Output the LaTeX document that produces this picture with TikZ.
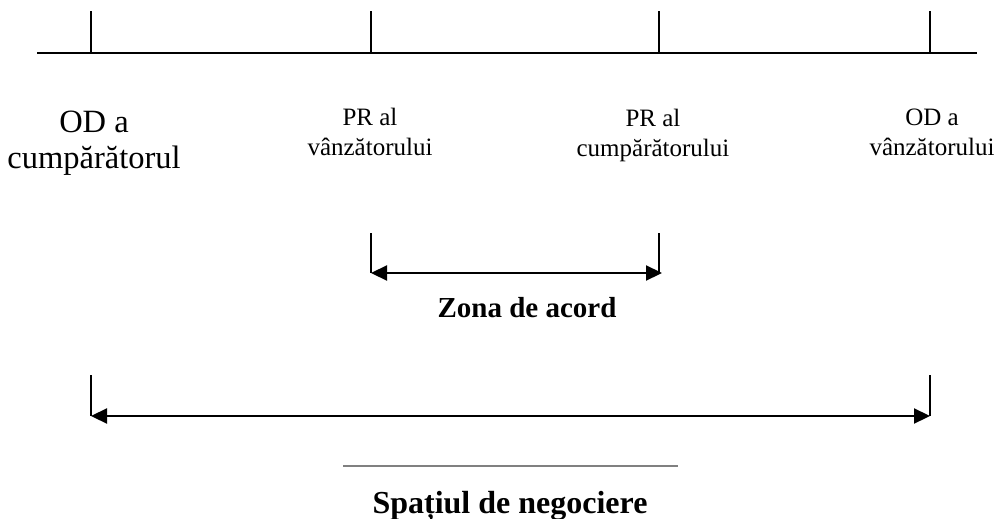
\documentclass[tikz,border=0pt]{standalone}
\usepackage{fontspec}
\setmainfont{Liberation Serif}
\usetikzlibrary{arrows.meta}
\begin{document}
\begin{tikzpicture}[x=1pt,y=-1pt,
  axis/.style={line width=2.4pt},
  tick/.style={line width=2pt},
  dim/.style={line width=2.2pt,{Triangle[length=16pt,width=15pt]}-{Triangle[length=16pt,width=15pt]}},
  lbl/.style={align=center,inner sep=0pt,anchor=base,font=\fontsize{25}{30}\selectfont},
  biglbl/.style={align=center,inner sep=0pt,anchor=base,font=\fontsize{32.5}{36}\selectfont},
  title/.style={inner sep=0pt,anchor=base,font=\bfseries\fontsize{29}{34}\selectfont}]
\useasboundingbox (0,0) rectangle (1001,519);
% top axis
\coordinate (L) at (37,53);
\coordinate (R) at (977,53);
\draw[axis] (L) -- (R);
\coordinate (t1b) at (91,53);  \coordinate (t1t) at (91,11);
\coordinate (t2b) at (371,53); \coordinate (t2t) at (371,11);
\coordinate (t3b) at (659,53); \coordinate (t3t) at (659,11);
\coordinate (t4b) at (930,53); \coordinate (t4t) at (930,11);
\draw[tick] (t1b) -- (t1t);
\draw[tick] (t2b) -- (t2t);
\draw[tick] (t3b) -- (t3t);
\draw[tick] (t4b) -- (t4t);
% labels (base anchor = baseline of last line)
\node[biglbl] (odc) at (94,168) {OD a\\cumpărătorul};
\node[lbl] (prv) at (370,155) {PR al\\vânzătorului};
\node[lbl] (prc) at (653,156) {PR al\\cumpărătorului};
\node[lbl] (odv) at (932,155) {OD a\\vânzătorului};
% zona de acord
\coordinate (za1t) at (371,233); \coordinate (za1) at (371,273);
\coordinate (za2t) at (659,233); \coordinate (za2) at (659,273);
\draw[tick] (za1t) -- (za1);
\draw[tick] (za2t) -- (za2);
\draw[dim] (za1) -- ([xshift=3pt]za2);
\node[title] (zona) at (527,317) {Zona de acord};
% spatiul de negociere
\coordinate (sn1t) at (91,375); \coordinate (sn1) at (91,416);
\coordinate (sn2t) at (930,375); \coordinate (sn2) at (930,416);
\draw[tick] (sn1t) -- (sn1);
\draw[tick] (sn2t) -- (sn2);
\draw[dim] (sn1) -- (sn2);
\coordinate (g1) at (343,466); \coordinate (g2) at (678,466);
\draw[line width=1.8pt,color=black!50] (g1) -- (g2);
\node[title,font=\bfseries\fontsize{32}{34}\selectfont] (spatiu) at (510,513) {Spațiul de negociere};
\end{tikzpicture}
\end{document}
